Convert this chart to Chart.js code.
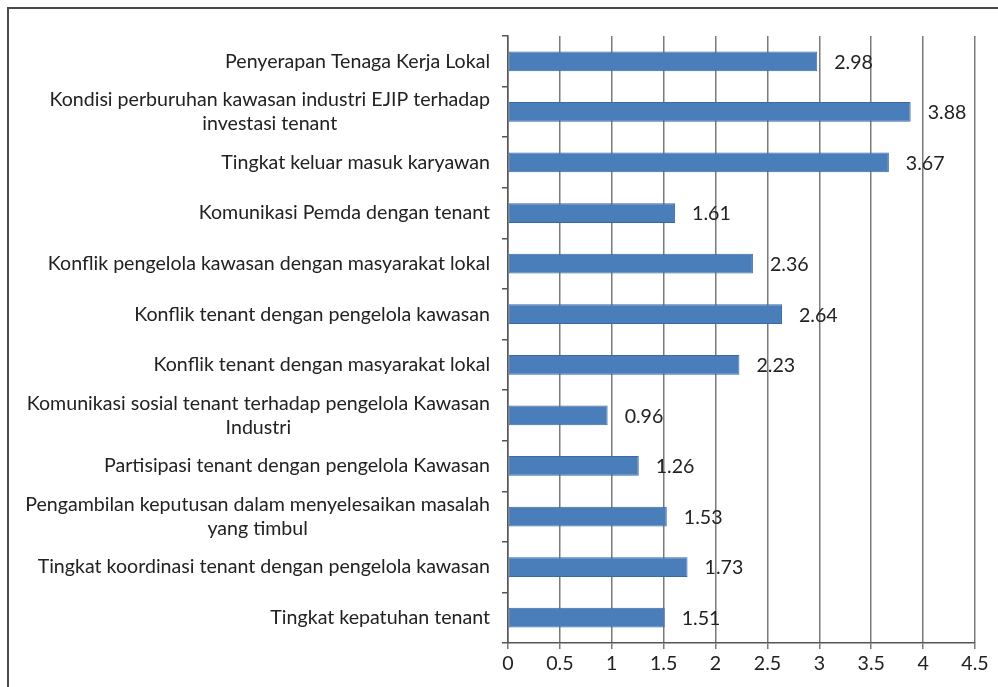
<!DOCTYPE html>
<html>
<head>
<meta charset="utf-8">
<script src="https://cdn.jsdelivr.net/npm/chart.js@4.4.0/dist/chart.umd.min.js"></script>
<style>
  html, body { margin: 0; padding: 0; background: #fff; overflow: hidden; }
  #frame { position: absolute; left: 7px; top: 7px; width: 1100px; height: 800px; border: 2px solid #4a4a4a; }
  #wrap { position: absolute; left: 0; top: 0; width: 998px; height: 687px; }
</style>
</head>
<body>
<div id="frame"></div>
<div id="wrap"><canvas id="c" width="998" height="687"></canvas></div>
<script>
const categories = [
  'Penyerapan Tenaga Kerja Lokal',
  ['Kondisi perburuhan kawasan industri EJIP terhadap', 'investasi tenant'],
  'Tingkat keluar masuk karyawan',
  'Komunikasi Pemda dengan tenant',
  'Konflik pengelola kawasan dengan masyarakat lokal',
  'Konflik tenant dengan pengelola kawasan',
  'Konflik tenant dengan masyarakat lokal',
  ['Komunikasi sosial tenant terhadap pengelola Kawasan', 'Industri'],
  'Partisipasi tenant dengan pengelola Kawasan',
  ['Pengambilan keputusan dalam menyelesaikan masalah', 'yang timbul'],
  'Tingkat koordinasi tenant dengan pengelola kawasan',
  'Tingkat kepatuhan tenant'
];
const scores = [2.98, 3.88, 3.67, 1.61, 2.36, 2.64, 2.23, 0.96, 1.26, 1.53, 1.73, 1.51];
const xTicks = [0, 0.5, 1, 1.5, 2, 2.5, 3, 3.5, 4, 4.5];

const FONT = 'Lato, "Open Sans", sans-serif';
const FSIZE = 19.6;

// category labels (centered lines, right aligned block) and value labels
const labelPlugin = {
  id: 'labels',
  afterDraw(chart) {
    const ctx = chart.ctx;
    const y = chart.scales.y;
    const x = chart.scales.x;
    ctx.save();
    ctx.font = FSIZE + 'px ' + FONT;
    ctx.fillStyle = '#222';
    ctx.textBaseline = 'middle';
    categories.forEach((lab, i) => {
      const cy = y.getPixelForTick(i);
      const lines = Array.isArray(lab) ? lab : [lab];
      const widths = lines.map(l => ctx.measureText(l).width);
      const maxW = Math.max(...widths);
      const right = y.right - 18;
      const lh = 24;
      lines.forEach((l, j) => {
        const ly = cy + (j - (lines.length - 1) / 2) * lh;
        ctx.textAlign = 'center';
        ctx.fillText(l, right - maxW / 2, ly);
      });
      ctx.textAlign = 'left';
      ctx.fillText(scores[i].toFixed(2), x.getPixelForValue(scores[i]) + 17, cy + 1);
    });
    ctx.restore();
  }
};

new Chart(document.getElementById('c'), {
  type: 'bar',
  data: {
    labels: categories,
    datasets: [{
      data: scores,
      backgroundColor: '#4a7ebb',
      borderColor: '#3a6aa3',
      borderWidth: 1,
      borderSkipped: false,
      categoryPercentage: 1,
      barPercentage: 0.39
    }]
  },
  options: {
    indexAxis: 'y',
    responsive: false,
    animation: false,
    layout: { padding: { left: 0, top: 36, right: 23, bottom: 0 } },
    plugins: { legend: { display: false }, tooltip: { enabled: false } },
    scales: {
      x: {
        min: 0,
        max: 4.5,
        afterBuildTicks: s => { s.ticks = xTicks.map(v => ({ value: v })); },
        afterFit: s => { s.height = 44; },
        grid: { color: '#7a7a7a', lineWidth: 1.5, tickLength: 6, drawTicks: true },
        border: { color: '#555', width: 1.5 },
        ticks: {
          color: '#222',
          padding: 3,
          font: { family: FONT, size: FSIZE },
          callback: v => String(v)
        }
      },
      y: {
        afterFit: s => { s.width = 508; },
        grid: { offset: true, drawOnChartArea: false, color: '#555', lineWidth: 1.5, tickLength: 6 },
        border: { color: '#555', width: 1.5 },
        ticks: { display: false }
      }
    }
  },
  plugins: [labelPlugin]
});
</script>
</body>
</html>
